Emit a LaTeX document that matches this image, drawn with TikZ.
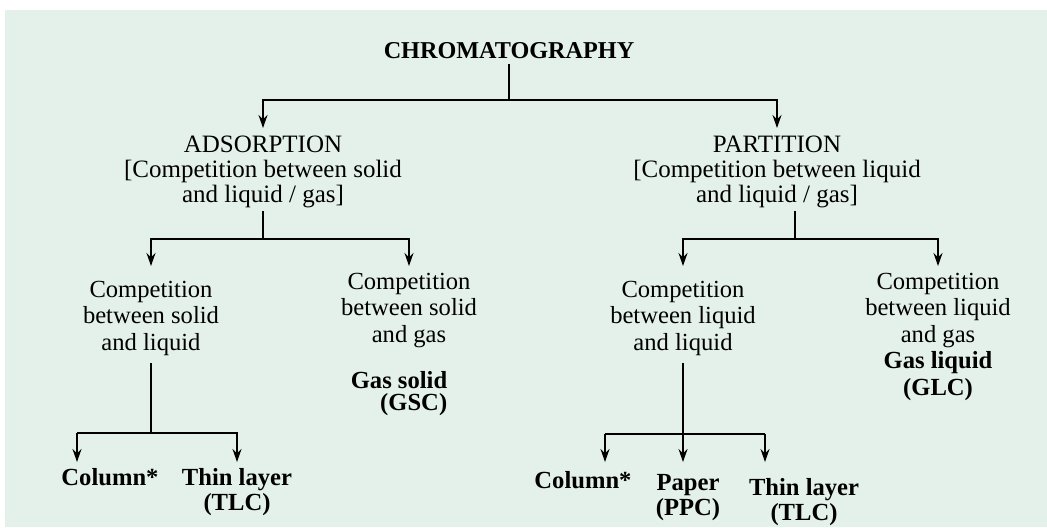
\documentclass[tikz,border=0pt]{standalone}
\usepackage{fontspec}
\setmainfont{Liberation Serif}
\usetikzlibrary{arrows.meta}
\definecolor{bgc}{RGB}{228,241,234}
\begin{document}
\begin{tikzpicture}[x=0.5pt,y=-0.5pt,line width=0.75pt,
  txt/.style={align=center,inner sep=0pt,anchor=base,font=\fontsize{12.3}{13.25}\selectfont},
  toptxt/.style={align=center,inner sep=0pt,anchor=base,font=\fontsize{12.5}{12.5}\selectfont},
  leaf/.style={align=center,inner sep=0pt,anchor=base,font=\fontsize{12.3}{12.5}\selectfont\bfseries},
  arr/.style={-{Stealth[length=6.5pt,width=4.5pt]}}]
\useasboundingbox (0,0) rectangle (1047,527);
\fill[white] (0,0) rectangle (1047,527);
\fill[bgc] (5,10) rectangle (1047,527);
% nodes (anchor=base is the baseline of the last line)
\node[leaf,font=\fontsize{12.1}{12.5}\selectfont\bfseries] (chrom) at (509,58) {CHROMATOGRAPHY};
\node[toptxt] (ads) at (263,202) {ADSORPTION\\{[}Competition between solid\\and liquid / gas]};
\node[toptxt] (par) at (777,202) {PARTITION\\{[}Competition between liquid\\and liquid / gas]};
\node[txt] (csl) at (151,350) {Competition\\between solid\\and liquid};
\node[txt] (csg) at (409,342) {Competition\\between solid\\and gas};
\node[leaf,align=right,font=\fontsize{12.3}{11}\selectfont\bfseries] (gsc) at (399,410) {Gas solid\\(GSC)};
\node[txt] (cll) at (683,350) {Competition\\between liquid\\and liquid};
\node[txt] (clg) at (938,395) {Competition\\between liquid\\and gas\\\textbf{Gas liquid}\\\textbf{(GLC)}};
\node[leaf] (col1) at (110,485) {Column*};
\node[leaf] (tl1) at (237,510) {Thin layer\\(TLC)};
\node[leaf] (col2) at (583,488) {Column*};
\node[leaf] (pap) at (688,515) {Paper\\(PPC)};
\node[leaf] (tl2) at (804,520) {Thin layer\\(TLC)};
% helper coordinates
\coordinate (t1) at (0,128);
\coordinate (t2) at (0,266);
\coordinate (t3) at (0,462);
\coordinate (j0) at (509,100);
\coordinate (j1) at (263,239);
\coordinate (j2) at (795,239);
\coordinate (j3) at (151,433);
\coordinate (a1) at (77,433);
\coordinate (j4) at (683,434);
\coordinate (a2) at (605,434);
\coordinate (a3) at (765,434);
% connectors
\draw[shorten <=2.5pt] (chrom) -- (j0);
\draw[arr] (j0) -| (ads.north |- t1);
\draw[arr] (j0) -| (par.north |- t1);
\draw[shorten <=1.5pt] (ads.south -| j1) -- (j1);
\draw[arr] (j1) -| (csl.north |- t2);
\draw[arr] (j1) -| (csg.north |- t2);
\draw[shorten <=1.5pt] (par.south -| j2) -- (j2);
\draw[arr] (j2) -| (cll.north |- t2);
\draw[arr] (j2) -| (clg.north |- t2);
\draw[shorten <=3.5pt] (csl) -- (j3);
\draw (j3) -- (a1);
\draw[arr] (a1) -- (a1 |- t3);
\draw[arr] (j3) -| (tl1.north |- t3);
\draw[arr,shorten <=3.5pt] (cll) -- (cll.south |- t3);
\draw (a2) -- (a3);
\draw[arr] (a2) -- (a2 |- t3);
\draw[arr] (a3) -- (a3 |- t3);
\end{tikzpicture}
\end{document}
